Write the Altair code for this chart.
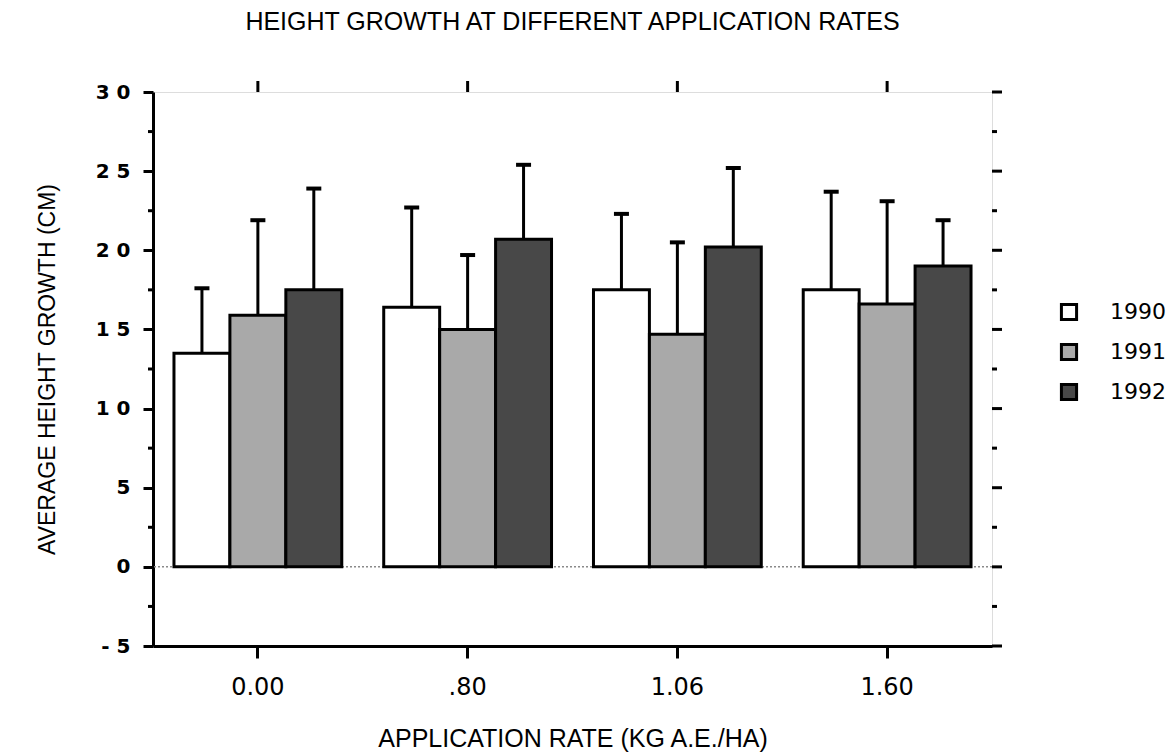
import altair as alt
import pandas as pd

# Application rates (kg a.e./ha) and survey years
rates = ["0.00", ".80", "1.06", "1.60"]
years = ["1990", "1991", "1992"]

# Mean height growth (cm) per rate, one list per year
mean_1990 = [13.5, 16.4, 17.5, 17.5]
mean_1991 = [15.9, 15.0, 14.7, 16.6]
mean_1992 = [17.5, 20.7, 20.2, 19.0]

# Standard deviations drawn as upward error bars
sd_1990 = [4.1, 6.3, 4.8, 6.2]
sd_1991 = [6.0, 4.7, 5.8, 6.5]
sd_1992 = [6.4, 4.7, 5.0, 2.9]

# Axis tick values
major_ticks = [-5, 0, 5, 10, 15, 20, 25, 30]
minor_ticks = [-2.5, 2.5, 7.5, 12.5, 17.5, 22.5, 27.5]

means = {"1990": mean_1990, "1991": mean_1991, "1992": mean_1992}
sds = {"1990": sd_1990, "1991": sd_1991, "1992": sd_1992}

rows = []
for yr in years:
    for i, r in enumerate(rates):
        m = means[yr][i]
        rows.append({"rate": r, "year": yr, "mean": m, "upper": round(m + sds[yr][i], 2)})
df = pd.DataFrame(rows)

W, H = 839, 554
FONT = "Liberation Sans"
NUM_FONT = "DejaVu Sans"
LW = 3

x_enc = alt.X(
    "rate:N",
    sort=rates,
    scale=alt.Scale(paddingInner=0.2, paddingOuter=0.1),
    axis=alt.Axis(
        title="APPLICATION RATE (KG A.E./HA)",
        labelAngle=0,
        labelFontSize=24,
        labelPadding=17,
        labelFont=NUM_FONT,
        tickSize=12,
        tickWidth=LW,
        tickColor="black",
        domainWidth=LW,
        domainColor="black",
        titleFontSize=25,
        titleFont=FONT,
        titleFontWeight="normal",
        titleY=92,
        titleBaseline="middle",
    ),
)
y_scale = alt.Scale(domain=[-5, 30], nice=False, zero=False)
x_off = alt.XOffset("year:N", sort=years, scale=alt.Scale(paddingInner=0, paddingOuter=0))

bars = alt.Chart(df).mark_bar(stroke="black", strokeWidth=LW).encode(
    x=x_enc,
    xOffset=x_off,
    y=alt.Y(
        "mean:Q",
        scale=y_scale,
        axis=alt.Axis(
            title="AVERAGE HEIGHT GROWTH (CM)",
            values=major_ticks,
            tickSize=10,
            tickWidth=LW,
            tickColor="black",
            domainWidth=LW,
            domainColor="black",
            grid=False,
            labelFontSize=20,
            labelFontWeight="bold",
            labelFont=NUM_FONT,
            labelPadding=13,
            # spaced-out digits, e.g. "3 0" and "- 5"
            labelExpr="join(split(datum.value < 0 ? '-' + abs(datum.value) : datum.label, ''), ' ')",
            titleFontSize=23,
            titleFont=FONT,
            titleFontWeight="normal",
            titleX=-106,
            titleBaseline="middle",
        ),
    ),
    fill=alt.Fill(
        "year:N",
        sort=years,
        scale=alt.Scale(domain=years, range=["#ffffff", "#a9a9a9", "#484848"]),
        legend=alt.Legend(
            title=None,
            orient="none",
            legendX=905,
            legendY=209,
            symbolType="square",
            symbolSize=230,
            symbolStrokeColor="black",
            symbolStrokeWidth=LW,
            labelFontSize=22,
            labelFont=NUM_FONT,
            labelOffset=30,
            rowPadding=12,
        ),
    ),
)

err_line = alt.Chart(df).mark_rule(color="black", strokeWidth=LW).encode(
    x=alt.X("rate:N", sort=rates),
    xOffset=x_off,
    y=alt.Y("mean:Q", scale=y_scale),
    y2="upper:Q",
)

err_cap = alt.Chart(df).mark_tick(
    color="black", opacity=1, thickness=4, size=15, orient="horizontal"
).encode(
    x=alt.X("rate:N", sort=rates),
    xOffset=x_off,
    y=alt.Y("upper:Q", scale=y_scale),
)

zero_line = alt.Chart(pd.DataFrame({"v": [0]})).mark_rule(
    color="#8a8a8a", strokeWidth=1.5, strokeDash=[2, 2]
).encode(y=alt.Y("v:Q", scale=y_scale))

minor_df = pd.DataFrame({"v": minor_ticks})
major_df = pd.DataFrame({"v": major_ticks})
rate_df = pd.DataFrame({"rate": rates})

left_minor = alt.Chart(minor_df).mark_rule(color="black", strokeWidth=LW).encode(
    y=alt.Y("v:Q", scale=y_scale), x=alt.value(-5), x2=alt.value(0)
)
right_minor = alt.Chart(minor_df).mark_rule(color="black", strokeWidth=LW).encode(
    y=alt.Y("v:Q", scale=y_scale), x=alt.value(W), x2=alt.value(W + 5)
)
right_major = alt.Chart(major_df).mark_rule(color="black", strokeWidth=LW).encode(
    y=alt.Y("v:Q", scale=y_scale), x=alt.value(W), x2=alt.value(W + 10)
)
top_ticks = alt.Chart(rate_df).mark_rule(color="black", strokeWidth=LW).encode(
    x=alt.X("rate:N", sort=rates), y=alt.value(0), y2=alt.value(-11)
)

chart = (
    alt.layer(zero_line, bars, err_line, err_cap, left_minor, right_minor, right_major, top_ticks)
    .properties(
        width=W,
        height=H,
        autosize=alt.AutoSizeParams(type="none"),
        padding={"left": 153, "top": 92, "right": 181, "bottom": 106},
        title=alt.TitleParams(
            "HEIGHT GROWTH AT DIFFERENT APPLICATION RATES",
            fontSize=25,
            font=FONT,
            fontWeight="normal",
            anchor="middle",
            frame="group",
            offset=45,
        ),
    )
    .configure_view(stroke="black", strokeWidth=LW)
    .configure(background="white")
)

chart.save("out.html", embed_options={"renderer": "svg", "actions": False})
